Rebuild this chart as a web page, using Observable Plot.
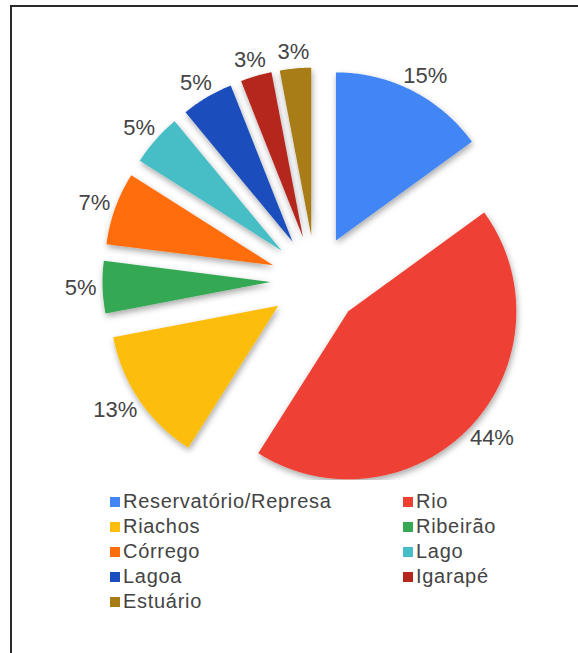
<!DOCTYPE html>
<html><head><meta charset="utf-8">
<script src="https://cdn.jsdelivr.net/npm/d3@7"></script>
<script src="https://cdn.jsdelivr.net/npm/@observablehq/plot@0.6"></script>
<style>
body{margin:0;background:#fff;font-family:"Liberation Sans",Arial,sans-serif;}
#wrap{position:relative;width:578px;height:653px;overflow:hidden;background:#fff}
#frame{position:absolute;left:10px;top:5px;right:-4px;bottom:-4px;border-top:2px solid #2a2a2a;border-left:2px solid #2a2a2a;pointer-events:none}
#chart{position:absolute;left:0;top:0}
#legend{position:absolute;left:110px;top:489px;display:grid;grid-template-columns:293px auto}
.item{display:flex;align-items:center;height:25px;font-size:20px;color:#444;letter-spacing:0.7px;white-space:nowrap}
.sw{width:10px;height:10px;margin-right:3px;flex:none}
</style></head>
<body><div id="wrap"><div id="chart"></div><div id="legend"></div><div id="frame"></div></div>
<script>
const categories = ["Reservatório/Represa","Rio","Riachos","Ribeirão","Córrego","Lago","Lagoa","Igarapé","Estuário"];
const values = [15,44,13,5,7,5,5,3,3];
const colors = ["#4285f4","#ee4134","#fcbd0e","#34a853","#ff6d0c","#46bdc6","#1a4dbd","#b5251d","#a87c14"];
const labels = values.map(v => v + "%");

const R = 168, EXPLODE = 45, LABEL_R = 176;
const total = d3.sum(values);
const pts = [], lbl = [];
let acc = 0;
categories.forEach((name, i) => {
  const a0 = acc / total * 2 * Math.PI;
  acc += values[i];
  const a1 = acc / total * 2 * Math.PI;
  const mid = (a0 + a1) / 2;
  const ox = EXPLODE * Math.sin(mid), oy = EXPLODE * Math.cos(mid);
  pts.push({name, x: ox, y: oy});
  const n = Math.max(4, Math.ceil((a1 - a0) / 0.01));
  for (let k = 0; k <= n; k++) {
    const t = a0 + (a1 - a0) * k / n;
    pts.push({name, x: ox + R * Math.sin(t), y: oy + R * Math.cos(t)});
  }
  pts.push({name, x: ox, y: oy});
  const s = Math.sin(mid), c = Math.cos(mid);
  const hw = labels[i].length * 7, hh = 9;
  lbl.push({text: labels[i], x: ox + LABEL_R * s + hw * s, y: oy + LABEL_R * c + hh * c});
});

const svg = Plot.plot({
  width: 578, height: 480, margin: 0,
  style: {fontFamily: "Liberation Sans, Arial, sans-serif", background: "transparent"},
  x: {domain: [-315, 263], axis: null},
  y: {domain: [-200, 280], axis: null},
  color: {domain: categories, range: colors},
  marks: [
    Plot.line(pts, {x: "x", y: "y", z: "name", fill: "name", stroke: "none", curve: "linear"}),
    Plot.text(lbl, {x: "x", y: "y", text: "text", fontSize: 22, fill: "#444", textAnchor: "middle", lineAnchor: "middle"})
  ]
});
const s = d3.select(svg);
const defs = s.insert("defs", ":first-child");
const f = defs.append("filter").attr("id", "sh").attr("x", "-20%").attr("y", "-20%").attr("width", "140%").attr("height", "140%");
f.append("feDropShadow").attr("dx", 1).attr("dy", 3).attr("stdDeviation", 3).attr("flood-color", "#000").attr("flood-opacity", 0.35);
s.select('g[aria-label="line"]').attr("filter", "url(#sh)");
document.getElementById("chart").appendChild(svg);

const legend = d3.select("#legend");
categories.forEach((name, i) => {
  const it = legend.append("div").attr("class", "item");
  it.append("span").attr("class", "sw").style("background", colors[i]);
  it.append("span").text(name);
});
</script>
</body></html>
